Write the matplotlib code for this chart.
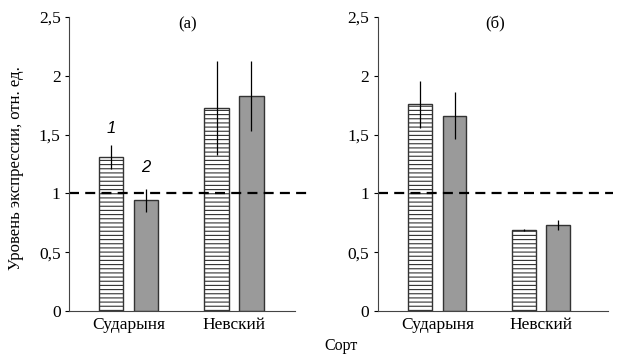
import matplotlib.pyplot as plt
import numpy as np

plt.rcParams['font.family'] = ['Liberation Serif', 'DejaVu Serif']
plt.rcParams['hatch.linewidth'] = 0.8
plt.rcParams['hatch.color'] = '#444444'

# data
varieties = ["Сударыня", "Невский"]
panels = ["(а)", "(б)"]
# panel (а)
a_series1 = [1.31, 1.73]
a_err1 = [0.10, 0.40]
a_series2 = [0.94, 1.83]
a_err2 = [0.10, 0.30]
# panel (б)
b_series1 = [1.76, 0.69]
b_err1 = [0.20, 0.01]
b_series2 = [1.66, 0.73]
b_err2 = [0.20, 0.04]

yticks = [0, 0.5, 1, 1.5, 2, 2.5]
ytick_labels = ["0", "0,5", "1", "1,5", "2", "2,5"]

fig = plt.figure(figsize=(6.19, 3.54), dpi=100)
ax1 = fig.add_axes([69/619, 1-311/354, 238/619, 294/354])
ax2 = fig.add_axes([377.7/619, 1-311/354, 235.3/619, 294/354])

x = np.arange(len(varieties))
w = 0.23
off = 0.165

def draw(ax, s1, e1, s2, e2, title, xlim, spine_end):
    ax.bar(x - off, s1, w, color='white', edgecolor='#333333', hatch='----', linewidth=1.0)
    ax.bar(x + off, s2, w, color='#9a9a9a', edgecolor='#333333', linewidth=1.0)
    ax.errorbar(x - off, s1, yerr=e1, fmt='none', ecolor='black', elinewidth=0.9, capsize=0)
    ax.errorbar(x + off, s2, yerr=e2, fmt='none', ecolor='black', elinewidth=0.9, capsize=0)
    ax.axhline(1, color='black', linewidth=1.6, dashes=(4.5, 2.8))
    ax.set_xlim(*xlim)
    ax.set_ylim(0, 2.5)
    ax.set_yticks(yticks)
    ax.set_yticklabels(ytick_labels, fontsize=12.5)
    ax.set_xticks(x)
    ax.set_xticklabels(varieties, fontsize=12.5)
    ax.tick_params(axis='x', length=0, pad=4)
    ax.tick_params(axis='y', length=3, width=0.8, direction='out', pad=3)
    for s in ['top', 'right']:
        ax.spines[s].set_visible(False)
    ax.spines['left'].set_color('#444444')
    ax.spines['bottom'].set_color('#444444')
    ax.spines['bottom'].set_bounds(xlim[0], spine_end)
    ax.text(0.5, 0.975, title, transform=ax.transAxes, ha='center', va='center', fontsize=12)

draw(ax1, a_series1, a_err1, a_series2, a_err2, panels[0], (-0.564, 1.692), 1.578)
draw(ax2, b_series1, b_err1, b_series2, b_err2, panels[1], (-0.574, 1.69), 1.64)

ax1.set_ylabel("Уровень экспрессии, отн. ед.", fontsize=12)
ax1.yaxis.set_label_coords((24 - 69)/238, (311-168)/294, transform=ax1.transAxes)
ax1.text(-off, a_series1[0] + a_err1[0] + 0.14, "1", ha='center', va='center',
         fontsize=12, style='italic', family='Liberation Sans')
ax1.text(off, a_series2[0] + a_err2[0] + 0.18, "2", ha='center', va='center',
         fontsize=12, style='italic', family='Liberation Sans')

fig.text(341/619, 1-346/354, "Сорт", ha='center', va='center', fontsize=11.5)

fig.savefig("out.png", dpi=100)
